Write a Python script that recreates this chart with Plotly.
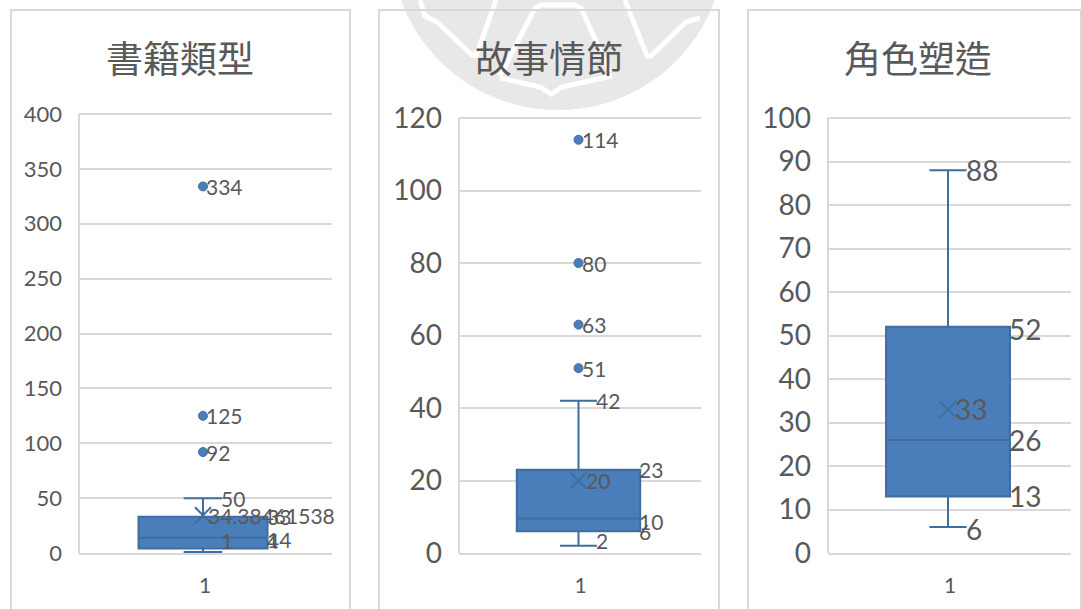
import math
import plotly.graph_objects as go

TITLES = ["書籍類型", "故事情節", "角色塑造"]
Y_MAX = [400, 120, 100]
Y_STEP = [50, 20, 10]
Q1 = [4, 6, 13]
MEDIAN = [14, 9.5, 26]
Q3 = [33, 23, 52]
LOW = [1, 2, 6]
HIGH = [50, 42, 88]
MEAN = [34.38461538, 20, 33]
OUTLIERS = [[92, 125, 334], [51, 63, 80, 114], []]
CATEGORY = [1]
CATEGORY_TEXT = ["1"]

W, H = 1081, 609
FRAMES = [(11, 350), (379, 719), (748, 1081)]
PLOTS = [(79, 332, 114), (459, 701, 118), (828, 1071, 118)]
CENTER_PX = [203, 578.5, 948]
TITLE_X = [180, 549, 918]
TITLE_Y = 57
Y0 = 553
HEAD_PX = 3
TICK_SIZE = [22, 28, 28]
LABEL_SIZE = [21, 21, 28]
CAT_SIZE = [21, 21, 21]
BOX_W = 0.51
CAP_W = 0.3
Y_STANDOFF = 16
X_STANDOFF = 13
CAT_NUDGE = 2
LEFT_NUDGE = -3
# label nudges in pixels for labels the source lifts clear of the axis: (panel, value) -> up
LIFT = {(0, 1): 11, (0, 4): 8, (0, 14): -2, (1, 2): 5, (1, 6): 0, (1, 9.5): -3,
        (2, 52): -2, (2, 6): -2}

GRID = "#D9D9D9"
TEXT = "#595959"
FILL = "#4A7EBB"
EDGE = "#3F6D9F"
FONT = "Lato"
CJK = "Noto Sans CJK TC"

fig = go.Figure()
layout = dict(
    width=W, height=H, margin=dict(l=0, r=0, t=0, b=0, pad=0, autoexpand=False),
    paper_bgcolor="white", plot_bgcolor="rgba(0,0,0,0)", showlegend=False,
    font=dict(family=FONT, color=TEXT),
)
shapes = []
annotations = []


def px(x):
    return x / W


def py(y):
    return 1 - y / H


def path(points, close=False):
    d = "M " + " L ".join(f"{px(a):.5f} {py(b):.5f}" for a, b in points)
    return d + (" Z" if close else "")


# faint stamp behind the panels, cut at the top edge of the page
cx, cy, r = 558, -57, 167
start = math.acos(-cy / r)
disc = [(cx + r * math.sin(-start + 2 * start * k / 80), cy + r * math.cos(-start + 2 * start * k / 80))
        for k in range(81)]
shapes.append(dict(type="path", xref="paper", yref="paper", layer="below",
                   path=path(disc, True), fillcolor="#E8E8E8", line=dict(width=0)))
STAMP_LINES = [
    [(500, 76), (535, 8), (541, 5), (575, 5), (581, 8), (610, 72)],
    [(500, 78), (540, 87), (551, 94), (562, 87), (612, 76)],
    [(420, 0), (425, 16), (437, 22), (472, 55), (476, 56), (496, 0)],
    [(700, 18), (686, 22), (651, 56), (647, 56), (625, 0)],
]
for pts in STAMP_LINES:
    shapes.append(dict(type="path", xref="paper", yref="paper", layer="below",
                       path=path(pts), fillcolor="rgba(0,0,0,0)",
                       line=dict(color="white", width=5)))


def label(xa, ya, x, y, text, size, xshift, yshift=0):
    annotations.append(dict(
        xref=xa, yref=ya, x=x, y=y, text=text, showarrow=False,
        xanchor="left", yanchor="middle", xshift=xshift + LEFT_NUDGE, yshift=yshift,
        font=dict(size=size, color=TEXT, family=FONT),
    ))


for i in range(3):
    n = i + 1
    left, right = FRAMES[i]
    x0, x1, ytop = PLOTS[i]
    shapes.append(dict(type="path", xref="paper", yref="paper", layer="below",
                       path=path([(left, H), (left, 10), (right, 10), (right, H)]),
                       fillcolor="rgba(0,0,0,0)", line=dict(color=GRID, width=2)))
    xa, ya = f"x{n}", f"y{n}"
    span = x1 - x0
    low = 1 - (CENTER_PX[i] - x0) / span
    layout[f"xaxis{n}"] = dict(
        domain=[px(x0), px(x1)], range=[low, low + 1],
        tickvals=[c + CAT_NUDGE / span for c in CATEGORY], ticktext=CATEGORY_TEXT,
        anchor=ya, showgrid=False, zeroline=False, showline=True,
        linecolor=GRID, linewidth=2, ticks="", ticklen=0,
        ticklabelstandoff=X_STANDOFF,
        tickfont=dict(size=CAT_SIZE[i], color=TEXT, family=FONT),
        fixedrange=True,
    )
    plot_h = Y0 - ytop
    # the vertical rule stops at the top gridline, so it is drawn on its own
    shapes.append(dict(type="line", xref="paper", yref="paper", layer="below",
                       x0=px(x0), x1=px(x0), y0=py(Y0), y1=py(ytop),
                       line=dict(color=GRID, width=2)))
    layout[f"yaxis{n}"] = dict(
        domain=[py(Y0), py(ytop - HEAD_PX)],
        range=[0, Y_MAX[i] * (1 + HEAD_PX / plot_h)],
        tick0=0, dtick=Y_STEP[i],
        anchor=xa, showgrid=True, gridcolor=GRID, gridwidth=2,
        zeroline=False, showline=False, ticks="",
        ticklabelstandoff=Y_STANDOFF,
        tickfont=dict(size=TICK_SIZE[i], color=TEXT, family=FONT),
        fixedrange=True,
    )
    fig.add_trace(go.Box(
        x=CATEGORY, q1=[Q1[i]], median=[MEDIAN[i]], q3=[Q3[i]],
        lowerfence=[LOW[i]], upperfence=[HIGH[i]],
        width=BOX_W, whiskerwidth=CAP_W,
        fillcolor=FILL, line=dict(color=EDGE, width=2),
        boxpoints=False, xaxis=xa, yaxis=ya, hoverinfo="skip",
    ))
    fig.add_trace(go.Scatter(
        x=CATEGORY, y=[MEAN[i]], mode="markers",
        marker=dict(symbol="x-thin", size=16, line=dict(color=EDGE, width=2), color=EDGE),
        xaxis=xa, yaxis=ya, hoverinfo="skip", cliponaxis=False,
    ))
    mean_text = f"{MEAN[i]:.8f}".rstrip("0").rstrip(".")
    label(xa, ya, 1, MEAN[i], mean_text, LABEL_SIZE[i], 6 if i == 0 else 8)
    if OUTLIERS[i]:
        fig.add_trace(go.Scatter(
            x=CATEGORY * len(OUTLIERS[i]), y=OUTLIERS[i], mode="markers",
            marker=dict(symbol="circle", size=9, color=FILL, line=dict(color=EDGE, width=1)),
            xaxis=xa, yaxis=ya, hoverinfo="skip", cliponaxis=False,
        ))
        for v in OUTLIERS[i]:
            label(xa, ya, 1, v, str(v), LABEL_SIZE[i], 4)
    for vals, dx in (([Q1[i], MEDIAN[i], Q3[i]], BOX_W / 2), ([LOW[i], HIGH[i]], BOX_W * CAP_W / 2)):
        for v in vals:
            label(xa, ya, 1 + dx, v, f"{v:.0f}", LABEL_SIZE[i], 0, LIFT.get((i, v), 0))
    annotations.append(dict(
        xref="paper", yref="paper", x=px(TITLE_X[i]), y=py(TITLE_Y), text=TITLES[i],
        showarrow=False, xanchor="center", yanchor="middle",
        font=dict(size=37, color=TEXT, family=CJK),
    ))

layout["shapes"] = shapes
layout["annotations"] = annotations
fig.update_layout(**layout)
fig.write_html("out.html", config={"displayModeBar": False},
               post_script="document.body.style.margin='0';document.documentElement.style.overflow='hidden';")
